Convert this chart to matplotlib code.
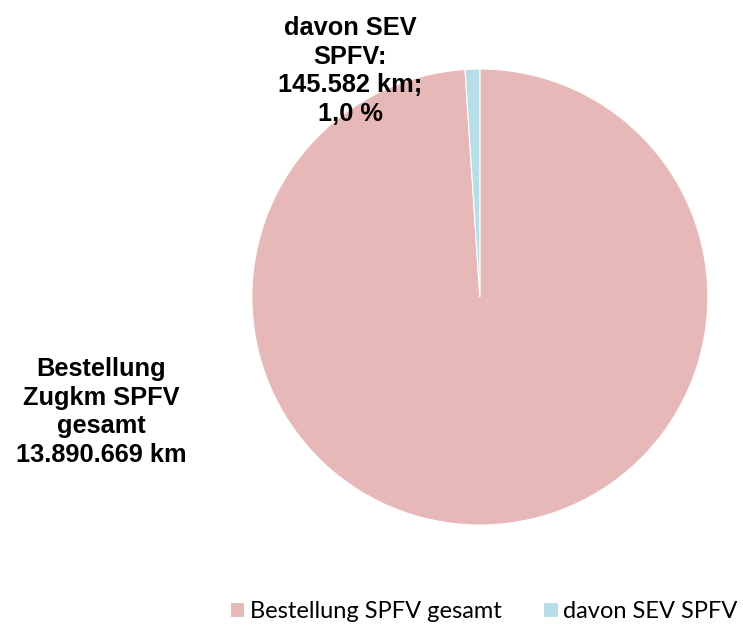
import matplotlib.pyplot as plt

# Data
labels = ["Bestellung SPFV gesamt", "davon SEV SPFV"]
values = [13890669, 145582]
text_labels = ["Bestellung\nZugkm SPFV\ngesamt\n13.890.669 km",
               "davon SEV\nSPFV:\n145.582 km;\n1,0 %"]
colors = ["#E6B8B7", "#B7DEE8"]

fig = plt.figure(figsize=(7.43, 6.29), dpi=100)
ax = fig.add_axes([0.339, 0.1653, 0.6137, 0.725])

wedges, _ = ax.pie(values, colors=colors, startangle=90, counterclock=False,
                   wedgeprops=dict(edgecolor="white", linewidth=0.8))
ax.set_xlim(-1, 1)
ax.set_ylim(-1, 1)
ax.set_aspect("equal")

# data labels
fig.text(101 / 743, 1 - 412 / 629, text_labels[0], ha="center", va="center",
         fontsize=18.3, fontweight="bold", family="Liberation Sans", linespacing=1.26)
fig.text(350 / 743, 1 - 71 / 629, text_labels[1], ha="center", va="center",
         fontsize=18.3, fontweight="bold", family="Liberation Sans", linespacing=1.26)

fig.legend(wedges, labels, loc="center", bbox_to_anchor=(484 / 743, 1 - 611 / 629),
           ncol=2, frameon=False, prop=dict(family="Lato", size=17),
           handlelength=0.6, handleheight=0.6, handletextpad=0.25, columnspacing=1.75,
           borderpad=0.2)

fig.savefig("out.png", dpi=100)
